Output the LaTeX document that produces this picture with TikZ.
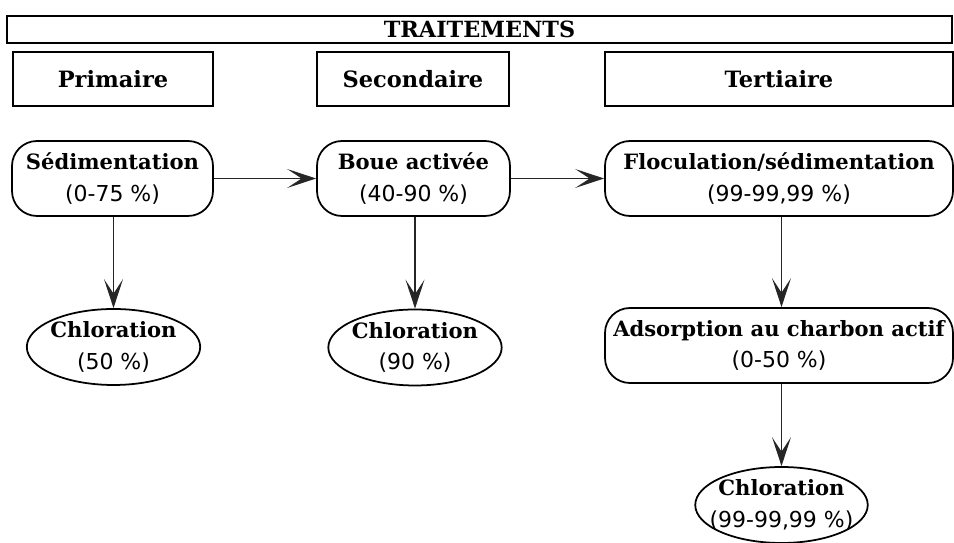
\documentclass[tikz,border=0pt]{standalone}
\usepackage{fontspec}
\usetikzlibrary{arrows.meta,shapes.geometric}
\newfontfamily\boxfont{DejaVu Serif}
\newfontfamily\pctfont{DejaVu Sans}
\newcommand{\stage}[2]{{\bfseries #1}\\{\pctfont\fontsize{12.5}{18}\selectfont #2}}

\begin{document}
\begin{tikzpicture}[line width=1pt,
font=\boxfont\fontsize{12}{18}\selectfont,
>={Stealth[length=5.8mm,width=3.8mm,inset=2.9mm]},
headbox/.style={draw,rectangle,inner sep=0pt,minimum height=1.08cm,font=\boxfont\bfseries\fontsize{12.8}{14}\selectfont},
stepbox/.style={draw,rectangle,rounded corners=0.5cm,align=center,inner sep=2pt,minimum height=1.5cm},
chlbox/.style={draw,ellipse,align=center,inner xsep=-1pt,inner ysep=-2pt,minimum width=3.45cm,minimum height=1.52cm},
flow/.style={->,line width=1pt,draw=black!85}]

\useasboundingbox (0,0) rectangle (19.08,10.86);

% en-tetes
\draw (9.59,10.27) node[draw,rectangle,minimum width=18.9cm,minimum height=0.54cm,inner sep=0pt,font=\boxfont\bfseries\fontsize{12.7}{14}\selectfont] (trait) {TRAITEMENTS};
\draw (2.26,9.28) node[headbox,minimum width=4.0cm] (prim) {Primaire};
\draw (8.26,9.28) node[headbox,minimum width=3.84cm] (sec) {Secondaire};
\draw (15.58,9.28) node[headbox,minimum width=6.96cm] (tert) {Tertiaire};

% etapes
\draw (2.25,7.29) node[stepbox,minimum width=4.02cm] (sedim) {\stage{Sédimentation}{(0-75 \%)}};
\draw (8.27,7.29) node[stepbox,minimum width=3.86cm] (boue) {\stage{Boue activée}{(40-90 \%)}};
\draw (15.58,7.29) node[stepbox,minimum width=6.96cm] (floc) {\stage{Floculation/sédimentation}{(99-99,99 \%)}};
\draw (15.58,3.95) node[stepbox,minimum width=6.96cm] (adsorp) {\stage{Adsorption au charbon actif}{(0-50 \%)}};

% chloration
\draw (2.27,3.92) node[chlbox] (chlA) {\stage{Chloration}{(50 \%)}};
\draw (8.3,3.91) node[chlbox,minimum width=3.4cm] (chlB) {\stage{Chloration}{(90 \%)}};
\draw (15.63,0.76) node[chlbox,inner xsep=-0.25cm] (chlC) {\stage{Chloration}{(99-99,99 \%)}};

\draw[flow] (sedim) -- (boue);
\draw[flow] (boue) -- (floc);
\draw[flow] (sedim.south -| chlA) -- (chlA);
\draw[flow] (boue.south -| chlB) -- (chlB);
\draw[flow] (floc.south -| chlC) -- (adsorp.north -| chlC);
\draw[flow] (adsorp.south -| chlC) -- (chlC);
\end{tikzpicture}
\end{document}
